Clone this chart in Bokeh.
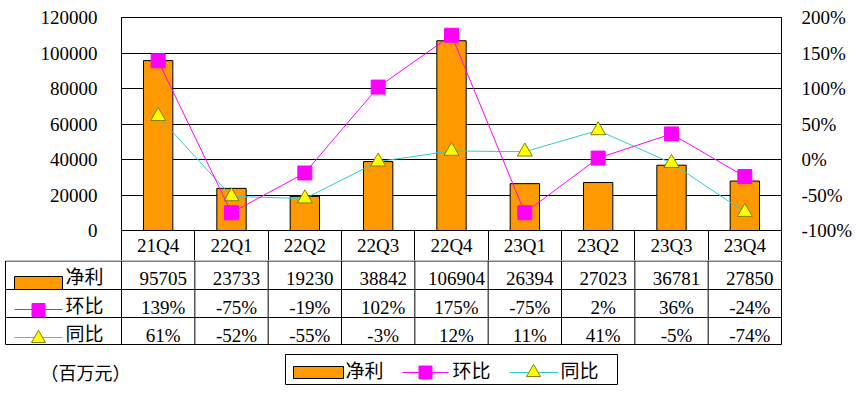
from bokeh.plotting import figure
from bokeh.models import (Range1d, LinearAxis, FixedTicker, PrintfTickFormatter,
                          CustomJSTickFormatter)
from bokeh.embed import file_html
from bokeh.resources import INLINE
from bokeh.core.properties import value

# ---- data ----
quarters = ["21Q4", "22Q1", "22Q2", "22Q3", "22Q4", "23Q1", "23Q2", "23Q3", "23Q4"]
net_profit = [95705, 23733, 19230, 38842, 106904, 26394, 27023, 36781, 27850]
qoq_pct = [139, -75, -19, 102, 175, -75, 2, 36, -24]
yoy_pct = [61, -52, -55, -3, 12, 11, 41, -5, -74]
left_ticks = [0, 20000, 40000, 60000, 80000, 100000, 120000]
right_ticks = [-100, -50, 0, 50, 100, 150, 200]
series_names = ["净利", "环比", "同比"]
unit_label = "（百万元）"

# ---- layout / style ----
W = 862
TOP_H = 260
TAB_H = 139
FL, FR = 121, 781
FONT = "'Liberation Serif', 'Noto Sans CJK SC', serif"
FS = "19px"
ORANGE = "#FF9900"
MAGENTA = "#FF00FF"
TEAL = "#33CCCC"
YELLOW = "#FFFF00"
TRI_LINE = "#808000"

n = len(quarters)
xpos = [i + 0.5 for i in range(n)]  # category slot centres on a 0..n axis

p = figure(width=W, height=TOP_H,
           x_range=Range1d(0, n), y_range=Range1d(0, 120000),
           x_axis_location=None, toolbar_location=None, output_backend="svg",
           min_border_left=FL, min_border_right=W - FR, min_border_top=17, min_border_bottom=30)
p.extra_y_ranges = {"pct": Range1d(-100, 200)}
p.outline_line_color = "black"
p.xgrid.visible = False
p.ygrid.ticker = FixedTicker(ticks=left_ticks)
p.ygrid.grid_line_color = "black"
p.ygrid.grid_line_alpha = 1.0

ya = p.yaxis[0]
ya.ticker = FixedTicker(ticks=left_ticks)
ya.formatter = PrintfTickFormatter(format="%d")
ra = LinearAxis(y_range_name="pct", ticker=FixedTicker(ticks=right_ticks),
                formatter=PrintfTickFormatter(format="%d%%"))
p.add_layout(ra, "right")
for ax, so in ((ya, 18), (ra, 14)):
    ax.axis_line_color = "black"
    ax.major_tick_line_color = None
    ax.minor_tick_line_color = None
    ax.major_label_text_font = FONT
    ax.major_label_text_font_size = FS
    ax.major_label_text_color = "black"
    ax.major_label_standoff = so

# header row of the data table as the x axis (labels at centres, separators at boundaries)
xa = LinearAxis(ticker=FixedTicker(ticks=xpos, minor_ticks=list(range(n + 1))),
                formatter=CustomJSTickFormatter(args=dict(labels=quarters),
                                                code="return labels[Math.floor(tick)] || '';"))
xa.axis_line_color = "black"
xa.major_tick_line_color = None
xa.major_tick_out = 0
xa.major_tick_in = 0
xa.minor_tick_line_color = "black"
xa.minor_tick_out = 30
xa.minor_tick_in = 0
xa.major_label_text_font = FONT
xa.major_label_text_font_size = FS
xa.major_label_text_color = "black"
xa.major_label_standoff = -26
p.add_layout(xa, "below")

p.vbar(x=xpos, top=net_profit, width=0.4, fill_color=ORANGE, line_color="black")
p.line(xpos, yoy_pct, y_range_name="pct", line_color=TEAL, line_width=1)
p.scatter(xpos, yoy_pct, y_range_name="pct", marker="triangle", size=15,
          fill_color=YELLOW, line_color=TRI_LINE)
p.line(xpos, qoq_pct, y_range_name="pct", line_color=MAGENTA, line_width=1)
p.scatter(xpos, qoq_pct, y_range_name="pct", marker="square", size=14,
          fill_color=MAGENTA, line_color=MAGENTA)

# ---- data table rows + legend ----
t = figure(width=W, height=TAB_H, x_range=Range1d(0, W), y_range=Range1d(TAB_H, 0),
           x_axis_location=None, y_axis_location=None, toolbar_location=None,
           output_backend="svg", min_border=0)
t.outline_line_color = None
t.grid.visible = False

TL = 5
cw = (FR - FL) / n
centers = [FL + (i + 0.5) * cw for i in range(n)]
rows = [0.5, 29, 57, 84]

x0, y0, x1, y1 = [], [], [], []
for r in rows:
    x0.append(TL); x1.append(FR); y0.append(r); y1.append(r)
x0.append(TL); x1.append(TL); y0.append(rows[0]); y1.append(rows[-1])
for k in range(n + 1):
    xx = FL + k * cw
    x0.append(xx); x1.append(xx); y0.append(0); y1.append(rows[-1])
t.segment(x0=x0, y0=y0, x1=x1, y1=y1, line_color="black", line_width=1)

tkw = dict(text_font=value(FONT), text_font_size=FS, text_color="black", text_baseline="middle")
vx = [c + 5 for c in centers]
t.text(x=vx, y=[18] * n, text=[str(v) for v in net_profit], text_align="center", **tkw)
t.text(x=vx, y=[47] * n, text=[f"{v}%" for v in qoq_pct], text_align="center", **tkw)
t.text(x=vx, y=[75] * n, text=[f"{v}%" for v in yoy_pct], text_align="center", **tkw)

# row keys
t.quad(left=[14], right=[62], top=[16], bottom=[29], fill_color=ORANGE, line_color="black")
t.segment(x0=[14], y0=[49], x1=[62], y1=[49], line_color=MAGENTA, line_width=1)
t.scatter(x=[38], y=[49.5], marker="square", size=13, fill_color=MAGENTA, line_color=MAGENTA)
t.segment(x0=[14], y0=[77], x1=[62], y1=[77], line_color=TEAL, line_width=1)
t.scatter(x=[38], y=[78], marker="triangle", size=14, fill_color=YELLOW, line_color=TRI_LINE)
t.text(x=[65] * 3, y=[17, 46, 74], text=series_names, text_align="left", **tkw)

# legend box
t.quad(left=[285], right=[617], top=[94], bottom=[124], fill_color=None, line_color="black")
t.quad(left=[293], right=[343], top=[106], bottom=[118], fill_color=ORANGE, line_color="black")
t.segment(x0=[402], y0=[112], x1=[448], y1=[112], line_color=MAGENTA, line_width=1)
t.scatter(x=[425], y=[112], marker="square", size=13, fill_color=MAGENTA, line_color=MAGENTA)
t.segment(x0=[509], y0=[112], x1=[558], y1=[112], line_color=TEAL, line_width=1)
t.scatter(x=[533], y=[112], marker="triangle", size=14, fill_color=YELLOW, line_color=TRI_LINE)
t.text(x=[345, 452, 560], y=[111] * 3, text=series_names, text_align="left", **tkw)

t.text(x=[40], y=[113], text=[unit_label], text_align="left",
       text_font=value(FONT), text_font_size="18px", text_color="black", text_baseline="middle")

open("out.html", "w").write(file_html([p, t], INLINE))
